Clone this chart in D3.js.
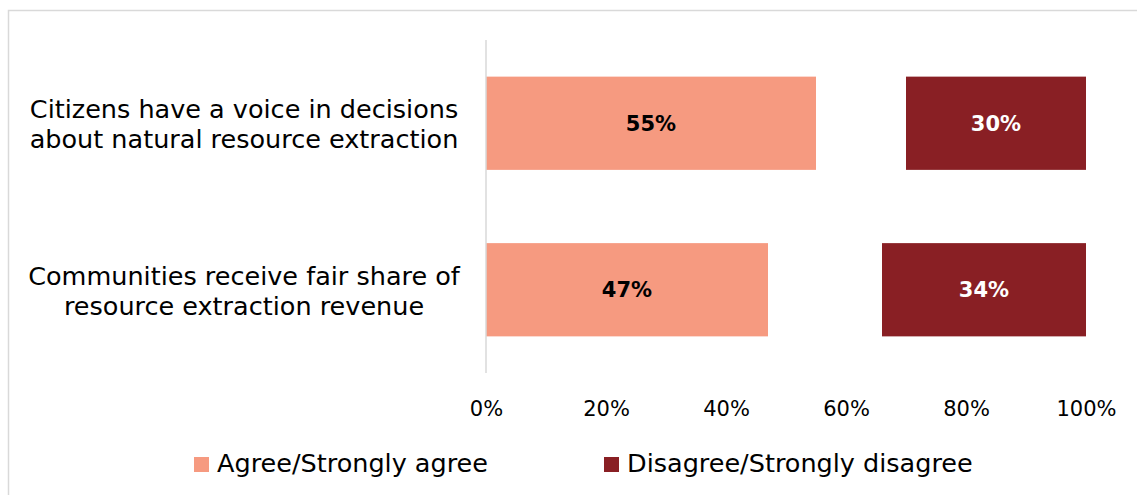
<!DOCTYPE html>
<html>
<head>
<meta charset="utf-8">
<script src="https://cdn.jsdelivr.net/npm/d3@7"></script>
<style>
    body { margin: 0; background: #fff; }
    svg { display: block; font-family: "DejaVu Sans", sans-serif; }
</style>
</head>
<body>
<div id="chart"></div>
<script>
// data
var categories = [
    ["Citizens have a voice in decisions", "about natural resource extraction"],
    ["Communities receive fair share of", "resource extraction revenue"]
];
var agree = [55, 47];
var disagree = [30, 34];
var seriesNames = ["Agree/Strongly agree", "Disagree/Strongly disagree"];
var colors = ["#f69a80", "#891f24"];
var ticks = [0, 20, 40, 60, 80, 100];

var W = 1137, H = 495;
var margin = {top: 40, left: 486, right: 51, bottom: 122};
var width = W - margin.left - margin.right,
    height = H - margin.top - margin.bottom;

var svg = d3.select("#chart").append("svg")
    .attr("width", W)
    .attr("height", H);

// chart frame (only left and top edges visible)
svg.append("path")
    .attr("d", "M8.5," + H + "V10.5H" + W)
    .attr("fill", "none")
    .attr("stroke", "#d9d9d9")
    .attr("stroke-width", 1.5);

var g = svg.append("g")
    .attr("transform", "translate(" + margin.left + "," + margin.top + ")");

var x = d3.scaleLinear().domain([0, 100]).range([0, width]);
var y = d3.scaleBand().domain(d3.range(categories.length)).range([0, height]).paddingInner(0.44).paddingOuter(0.22);

// bars
var rows = categories.map(function (c, i) {
    return {i: i, agree: agree[i], disagree: disagree[i]};
});

g.selectAll(".agree")
    .data(rows)
    .enter().append("rect")
    .attr("x", x(0))
    .attr("y", function (d) { return y(d.i); })
    .attr("width", function (d) { return x(d.agree) - x(0); })
    .attr("height", y.bandwidth())
    .attr("fill", colors[0]);

g.selectAll(".disagree")
    .data(rows)
    .enter().append("rect")
    .attr("x", function (d) { return x(100 - d.disagree); })
    .attr("y", function (d) { return y(d.i); })
    .attr("width", function (d) { return x(100) - x(100 - d.disagree); })
    .attr("height", y.bandwidth())
    .attr("fill", colors[1]);

// value labels
g.selectAll(".lblA")
    .data(rows)
    .enter().append("text")
    .attr("x", function (d) { return x(d.agree / 2); })
    .attr("y", function (d) { return y(d.i) + y.bandwidth() / 2; })
    .attr("dy", "0.35em")
    .attr("text-anchor", "middle")
    .style("font-size", "21px")
    .style("font-weight", "bold")
    .attr("fill", "#000")
    .text(function (d) { return d.agree + "%"; });

g.selectAll(".lblD")
    .data(rows)
    .enter().append("text")
    .attr("x", function (d) { return x(100 - d.disagree / 2); })
    .attr("y", function (d) { return y(d.i) + y.bandwidth() / 2; })
    .attr("dy", "0.35em")
    .attr("text-anchor", "middle")
    .style("font-size", "21px")
    .style("font-weight", "bold")
    .attr("fill", "#fff")
    .text(function (d) { return d.disagree + "%"; });

// vertical axis line
g.append("line")
    .attr("x1", x(0)).attr("x2", x(0))
    .attr("y1", 0).attr("y2", height)
    .attr("stroke", "#d9d9d9")
    .attr("stroke-width", 1.5);

// x axis tick labels
var xAxis = g.append("g")
    .attr("transform", "translate(0," + height + ")")
    .call(d3.axisBottom(x).tickValues(ticks).tickSize(0).tickPadding(28)
        .tickFormat(function (d) { return d + "%"; }));
xAxis.select(".domain").remove();
xAxis.selectAll("text")
    .style("font-family", "DejaVu Sans, sans-serif")
    .style("font-size", "21px")
    .attr("fill", "#000");

// category labels
var cat = g.selectAll(".cat")
    .data(categories)
    .enter().append("text")
    .attr("x", 244 - margin.left)
    .attr("y", function (d, i) { return y(i) + y.bandwidth() / 2; })
    .attr("text-anchor", "middle")
    .style("font-size", "25.5px")
    .attr("fill", "#000");
cat.selectAll("tspan")
    .data(function (d) { return d; })
    .enter().append("tspan")
    .attr("x", 244 - margin.left)
    .attr("dy", function (d, j) { return j === 0 ? -5 : 30; })
    .text(function (d) { return d; });

// legend
var legendX = [194, 604];
var legend = svg.selectAll(".legend")
    .data(seriesNames)
    .enter().append("g")
    .attr("transform", function (d, i) { return "translate(" + legendX[i] + ",457)"; });
legend.append("rect")
    .attr("width", 15).attr("height", 15)
    .attr("fill", function (d, i) { return colors[i]; });
legend.append("text")
    .attr("x", 23)
    .attr("y", 15)
    .style("font-size", "25.5px")
    .attr("fill", "#000")
    .text(function (d) { return d; });
</script>
</body>
</html>
